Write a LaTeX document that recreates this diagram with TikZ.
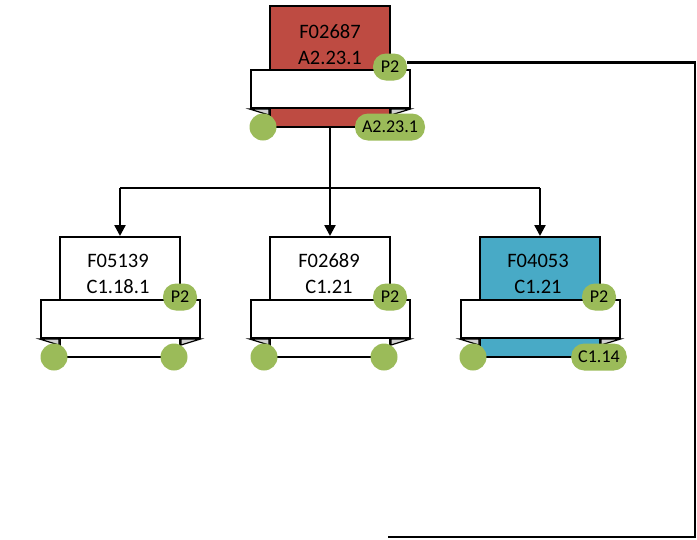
\documentclass[tikz,border=0pt]{standalone}
\usepackage{fontspec}
\setmainfont{Carlito}
\usetikzlibrary{arrows.meta}
\definecolor{bred}{RGB}{190,75,66}
\definecolor{bblue}{RGB}{72,170,198}
\definecolor{pgreen}{RGB}{155,187,89}
\begin{document}
\begin{tikzpicture}[x=1pt,y=-1pt,
  fbox/.style={draw=black, line width=2pt, minimum width=120pt, minimum height=120pt, inner sep=0pt},
  banner/.style={draw=black, fill=white, line width=2pt, minimum width=159pt, minimum height=38pt, inner sep=0pt},
  pill/.style={fill=pgreen, rounded corners=13pt, minimum height=27pt, inner xsep=7pt, inner ysep=0pt, font=\fontsize{18}{18}\selectfont},
  ptwo/.style={pill, minimum width=34pt, inner xsep=2pt},
  dot/.style={circle, fill=pgreen, minimum size=27pt, inner sep=0pt},
  lbl/.style={align=center, font=\fontsize{20.5}{26}\selectfont},
  conn/.style={line width=2.4pt},
  fold/.style={fill=gray!35, draw=black, line width=1.2pt},
  arr/.style={conn, -{Triangle[length=11pt,width=11pt]}}
]
\useasboundingbox (0,0) rectangle (697,539);

% top node
\node[fbox, fill=bred, minimum height=121pt] (b0) at (330,66.5) {};
\node[lbl] (t0) at (330,44.5) {F02687\\A2.23.1};
\node[banner] (n0) at (330,89) {};
\draw[fold] (n0.south west) -- (b0.west |- n0.south) -- ++(0,6) -- cycle;
\draw[fold] (n0.south east) -- (b0.east |- n0.south) -- ++(0,6) -- cycle;

% children
\node[fbox, fill=white] (b1) at (120,297) {};
\node[lbl] (t1) at (118,273.5) {F05139\\C1.18.1};
\node[banner] (n1) at (120,319) {};
\draw[fold] (n1.south west) -- (b1.west |- n1.south) -- ++(0,6) -- cycle;
\draw[fold] (n1.south east) -- (b1.east |- n1.south) -- ++(0,6) -- cycle;

\node[fbox, fill=white] (b2) at (330,297) {};
\node[lbl] (t2) at (329,273.5) {F02689\\C1.21};
\node[banner] (n2) at (330,319) {};
\draw[fold] (n2.south west) -- (b2.west |- n2.south) -- ++(0,6) -- cycle;
\draw[fold] (n2.south east) -- (b2.east |- n2.south) -- ++(0,6) -- cycle;

\node[fbox, fill=bblue] (b3) at (540,297) {};
\node[lbl] (t3) at (538,273.5) {F04053\\C1.21};
\node[banner] (n3) at (540,319) {};
\draw[fold] (n3.south west) -- (b3.west |- n3.south) -- ++(0,6) -- cycle;
\draw[fold] (n3.south east) -- (b3.east |- n3.south) -- ++(0,6) -- cycle;

% connectors
\coordinate (bus) at (330,188);
\coordinate (e1) at (388,537);
\coordinate (r1) at (695,537);
\draw[conn] (b0.south) -- (bus);
\draw[conn] (b1.north |- bus) -- (b3.north |- bus);
\draw[arr] (b1.north |- bus) -- (b1.north);
\draw[arr] (bus) -- (b2.north);
\draw[arr] (b3.north |- bus) -- (b3.north);

% pills and dots
\node[ptwo] (p0) at (390,67) {P2};
\draw[conn] ([yshift=4.5pt]p0.east) -| (r1) -- (e1);
\node[dot] (d0) at (263,127) {};
\node[pill] (q0) at (390,127) {A2.23.1};

\node[ptwo] (p1) at (180,297) {P2};
\node[dot] (d1a) at (54,357) {};
\node[dot] (d1b) at (174,357) {};

\node[ptwo] (p2) at (390,297) {P2};
\node[dot] (d2a) at (264,357) {};
\node[dot] (d2b) at (384,357) {};

\node[ptwo] (p3) at (599,297) {P2};
\node[dot] (d3) at (473,357) {};
\node[pill] (q3) at (599,357) {C1.14};
\end{tikzpicture}
\end{document}
